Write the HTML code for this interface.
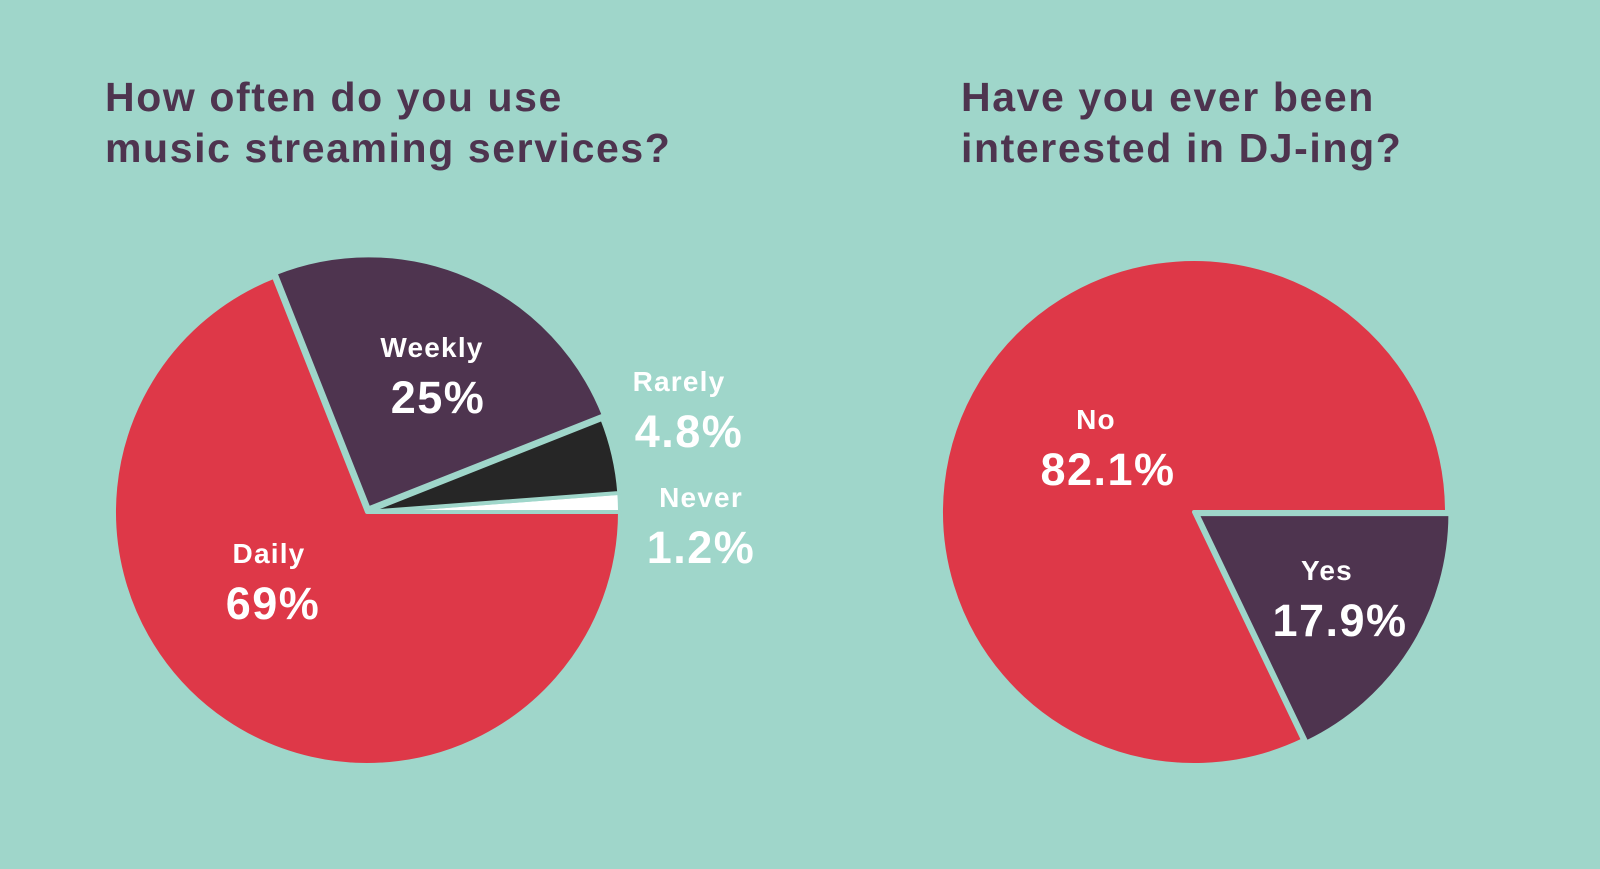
<!DOCTYPE html>
<html><head><meta charset="utf-8"><style>
html,body{margin:0;padding:0;background:#9fd6ca;}
svg{display:block;font-family:"Liberation Sans",sans-serif;}
</style></head><body>
<svg id="c" width="1600" height="869" viewBox="0 0 1600 869">
<rect width="1600" height="869" fill="#9fd6ca"/>
<g fill="#4e344f" font-weight="bold" font-size="41" letter-spacing="1.6">
<text x="105" y="111">How often do you use</text>
<text x="105" y="162">music streaming services?</text>
<text x="961" y="111">Have you ever been</text>
<text x="961" y="162">interested in DJ-ing?</text>
</g>
<g id="pies"></g>
</svg>
<script>
const leftCategories=["Never","Rarely","Weekly","Daily"];
const leftValues=[1.2,4.8,25,69];
const leftLabels=["1.2%","4.8%","25%","69%"];
const rightCategories=["Yes","No"];
const rightValues=[17.9,82.1];
const rightLabels=["17.9%","82.1%"];
const NS="http://www.w3.org/2000/svg";
const g=document.getElementById('pies');
function mk(t,a,p){const e=document.createElementNS(NS,t);for(const k in a)e.setAttribute(k,a[k]);(p||g).appendChild(e);return e;}
function pie(cx,cy,r,vals,cats,colors,dir,offs){
  const tot=vals.reduce((a,b)=>a+b,0);let a0=0;
  vals.forEach((v,i)=>{
    const a1=a0+v/tot*2*Math.PI;
    const mid=(a0+a1)/2;
    const ox=Math.cos(mid)*offs[i], oy=dir*Math.sin(mid)*offs[i];
    const x0=cx+ox+r*Math.cos(a0), y0=cy+oy+dir*r*Math.sin(a0);
    const x1=cx+ox+r*Math.cos(a1), y1=cy+oy+dir*r*Math.sin(a1);
    const large=(a1-a0)>Math.PI?1:0;
    const sweep=dir>0?1:0;
    const p=mk('path',{d:`M${cx+ox},${cy+oy} L${x0},${y0} A${r},${r} 0 ${large} ${sweep} ${x1},${y1} Z`,fill:colors[i],stroke:'#9fd6ca','stroke-width':4,'stroke-linejoin':'round'});
    
    
    a0=a1;
  });
}
pie(367,512,253,leftValues,leftCategories,["#ffffff","#262626","#4e344f","#de3848"],-1,[0,0,4,0]);
pie(1194,512,253,rightValues,rightCategories,["#4e344f","#de3848"],1,[4,0]);
function lbl(x,y,name,val,id,vx){
  const t=mk('text',{x:x,y:y,'text-anchor':'middle',fill:'#fff','font-size':28,'font-weight':'bold','letter-spacing':1.2});t.textContent=name;
  
  
  const v=mk('text',{x:vx,y:y+56,'text-anchor':'middle',fill:'#fff','font-size':45,'font-weight':'bold','letter-spacing':1.5});v.textContent=val;
  
  
}
lbl(432,357,leftCategories[2],leftLabels[2],'weekly',438);
lbl(679,391,leftCategories[1],leftLabels[1],'rarely',689);
lbl(701,507,leftCategories[0],leftLabels[0],'never',701);
lbl(269,563,leftCategories[3],leftLabels[3],'daily',273);
lbl(1096,429,rightCategories[1],rightLabels[1],'no',1108);
lbl(1327,580,rightCategories[0],rightLabels[0],'yes',1340);
</script>
</body></html>
